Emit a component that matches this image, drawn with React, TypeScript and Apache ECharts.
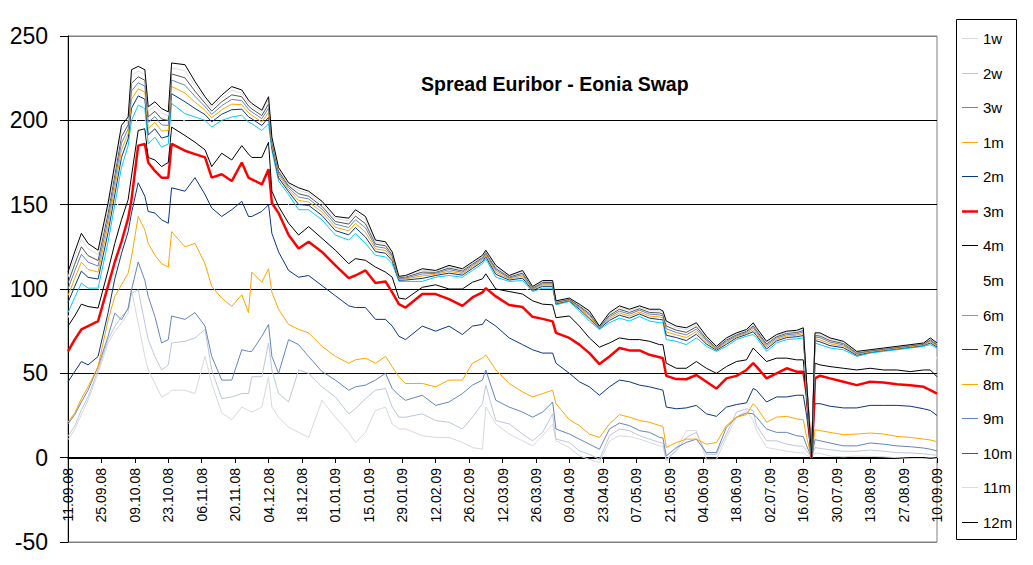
import React, { useEffect, useRef } from "react";
import * as echarts from "echarts";

// business-day index (0 = 11.09.08 ... 260 = 10.09.09) of each sampled point
const X = [0, 2, 4, 6, 9, 12, 14, 16, 18, 19, 21, 23, 24, 26, 28, 30, 31, 35, 38, 41, 43, 46, 49, 52, 54,
  55, 58, 60, 61, 63, 66, 69, 72, 76, 80, 84, 86, 89, 92, 95, 97, 99, 101,
  106, 110, 114, 118, 121, 124, 125, 128, 132, 136, 139, 142, 145, 146, 150, 153,
  156, 159, 162, 165, 168, 171, 174, 177, 178, 179, 182, 185, 188, 191, 194, 197, 200, 203, 205,
  206, 209, 212, 215, 218, 220, 221, 222.5, 223.5, 225, 228, 232, 236, 240, 244, 248, 252, 256, 258, 260];

const DATE_LABELS = ["11.09.08", "25.09.08", "09.10.08", "23.10.08", "06.11.08", "20.11.08", "04.12.08",
  "18.12.08", "01.01.09", "15.01.09", "29.01.09", "12.02.09", "26.02.09", "12.03.09", "26.03.09",
  "09.04.09", "23.04.09", "07.05.09", "21.05.09", "04.06.09", "18.06.09", "02.07.09", "16.07.09",
  "30.07.09", "13.08.09", "27.08.09", "10.09.09"];

const S_12M = [110, 122, 133, 127, 123, 151, 174, 197, 202, 230, 232, 230, 208, 211, 207, 205, 234, 233, 223, 214, 209, 215, 220, 218, 212,
  210, 206, 214, 190, 172, 163, 160, 158, 152, 143, 142, 147, 143, 129, 128, 122, 107.5, 108,
  112, 111, 114, 112, 116, 120, 123, 114, 108, 111, 101.5, 105, 105, 93, 94.6, 91,
  87, 78, 86, 90, 88, 90, 88, 88, 87, 81, 78, 77, 80, 72, 66, 71, 74, 76, 80,
  77, 69, 73, 75, 75.5, 77, 45, 0, 74, 74, 71, 69, 63, 64, 65, 66, 67, 68, 71, 68];

const S_11M = [107, 118.8, 129.5, 123.8, 120.3, 148.2, 171.1, 194, 200, 226.4, 229.2, 227.2, 205.4, 208.5, 204.2, 202.7, 231.1, 229.5, 220.5, 212.3, 207.4, 213.2, 217.8, 216.2, 210.4,
  208.6, 204.6, 212.1, 189, 171, 162.2, 158.4, 156.7, 150.7, 141.7, 140.4, 145.3, 141.1, 127.9, 126.9, 121.2, 107.1, 107.6,
  111.1, 110.5, 113.3, 111.4, 115.4, 119.4, 122.4, 113.2, 107.6, 110.3, 101.1, 104.5, 104.5, 92.7, 94.4, 90.5,
  86.3, 77.8, 85.3, 89.1, 87.2, 89.2, 87.2, 87, 86.2, 79.7, 76.9, 75.8, 78.9, 71.3, 65.6, 70.4, 73.5, 75.5, 79.2,
  76.3, 68.3, 72.4, 74.4, 74.9, 76.3, 44.4, 0, 73.3, 73.2, 70.3, 68.4, 62.6, 63.8, 64.8, 65.8, 66.8, 67.8, 70.5, 67.6];

const S_10M = [103.5, 114.7, 125, 119.8, 116.9, 144.8, 167.5, 190.3, 197.4, 221.9, 225.8, 223.8, 202.1, 205.3, 200.8, 199.9, 227.5, 225.2, 217.3, 210.2, 205.5, 211, 215.1, 214, 208.5,
  206.8, 202.8, 209.7, 187.8, 169.8, 161.1, 156.5, 155, 149, 140, 138.5, 143.2, 138.7, 126.6, 125.6, 120.1, 106.7, 107.1,
  110, 109.9, 112.4, 110.7, 114.7, 118.7, 121.7, 112.1, 107.1, 109.4, 100.7, 103.8, 103.8, 92.4, 94, 89.9,
  85.4, 77.5, 84.4, 88, 86.1, 88.3, 86.1, 85.8, 85.1, 78, 75.6, 74.3, 77.6, 70.4, 65.2, 69.7, 72.9, 74.9, 78.1,
  75.4, 67.4, 71.7, 73.7, 74.2, 75.4, 43.7, 0, 72.4, 72.1, 69.4, 67.7, 62.2, 63.5, 64.5, 65.5, 66.5, 67.5, 69.9, 67.2];

const S_9M = [100, 110.7, 120.6, 115.9, 113.6, 141.3, 163.9, 186.5, 194.9, 217.4, 222.3, 220.3, 198.8, 202.2, 197.3, 197, 223.9, 220.8, 214.2, 208.1, 203.5, 208.7, 212.4, 211.7, 206.5,
  205, 201, 207.3, 186.6, 168.6, 160.1, 154.5, 153.4, 147.4, 138.4, 136.5, 141.1, 136.3, 125.2, 124.2, 119.1, 106.2, 106.5,
  108.9, 109.3, 111.5, 109.9, 113.9, 117.9, 120.9, 111.1, 106.5, 108.5, 100.2, 103.1, 103.1, 92, 93.8, 89.3,
  84.5, 77.2, 83.5, 86.9, 85.1, 87.4, 85.1, 84.6, 84.1, 76.4, 74.2, 72.8, 76.2, 69.5, 64.7, 68.9, 72.3, 74.3, 77.1,
  74.5, 66.5, 70.9, 72.9, 73.4, 74.5, 42.9, 0, 71.5, 71.1, 68.5, 66.9, 61.7, 63.2, 64.2, 65.2, 66.2, 67.2, 69.3, 66.7];

const S_8M = [96, 106.3, 115.9, 111.6, 110, 137.7, 160.1, 182.5, 192.1, 212.6, 218.7, 216.7, 195.2, 198.8, 193.7, 194, 220.1, 216.2, 210.8, 205.9, 201.5, 206.3, 209.6, 209.3, 204.5,
  203, 199, 204.7, 185.4, 167.4, 158.9, 152.5, 151.6, 145.6, 136.6, 134.5, 138.9, 133.7, 123.8, 122.8, 117.9, 105.8, 106,
  107.7, 108.7, 110.5, 109.1, 113.1, 117.1, 120.1, 109.9, 106, 107.5, 99.8, 102.4, 102.4, 91.6, 93.4, 88.7,
  83.5, 76.8, 82.5, 85.8, 83.9, 86.3, 83.9, 83.4, 82.9, 74.6, 72.8, 71.2, 74.8, 68.5, 64.3, 68.1, 71.7, 73.7, 75.9,
  73.5, 65.5, 70.1, 72.1, 72.6, 73.5, 42.1, 0, 70.5, 69.9, 67.5, 66.1, 61.3, 62.8, 63.8, 64.8, 65.8, 66.8, 68.7, 66.3];

const S_7M = [92, 101.5, 110.6, 106.9, 105.9, 133.5, 155.8, 178, 189.1, 207.2, 214.5, 212.5, 191.3, 195, 189.5, 190.6, 215.8, 211, 207, 203.4, 199.1, 203.6, 206.3, 206.6, 202.1,
  200.9, 196.9, 201.8, 183.9, 165.9, 157.7, 150.1, 149.6, 143.6, 134.6, 132.1, 136.4, 130.8, 122.2, 121.2, 116.7, 105.2, 105.3,
  106.3, 108, 109.4, 108.2, 112.2, 116.2, 119.2, 108.7, 105.3, 106.4, 99.2, 101.6, 101.6, 91.2, 93.1, 88,
  82.4, 76.5, 81.4, 84.5, 82.7, 85.2, 82.7, 81.9, 81.7, 72.6, 71.2, 69.4, 73.2, 67.4, 63.7, 67.2, 71, 73, 74.7,
  72.4, 64.4, 69.2, 71.2, 71.7, 72.4, 41.2, 0, 69.4, 68.7, 66.4, 65.2, 60.7, 62.5, 63.5, 64.5, 65.5, 66.5, 68, 65.7];

const S_6M = [86, 95, 103.5, 100.5, 100.5, 128, 150, 172, 185, 200, 209, 207, 186, 190, 184, 186, 210, 204, 202, 200, 196, 200, 202, 203, 199,
  198, 194, 198, 182, 164, 156, 147, 147, 141, 132, 129, 133, 127, 120, 119, 115, 104.5, 104.5,
  104.5, 107, 108, 107, 111, 115, 118, 107, 104.5, 105, 98.5, 100.5, 100.5, 90.6, 92.6, 87,
  81, 76, 80, 82.7, 81, 83.7, 81, 80, 80, 70, 69, 67, 71, 66, 63, 66, 70, 72, 73,
  71, 63, 68, 70, 70.5, 71, 40, 0, 68, 67, 65, 64, 60, 62, 63, 64, 65, 66, 67, 65];

const S_5M = [83, 91.2, 99.1, 96.7, 96.4, 122, 142, 161, 173.8, 188.5, 203.8, 202.8, 183.2, 185.3, 180, 182.2, 205.1, 199.5, 196.8, 193.9, 187.8, 193.2, 193.1, 196.7, 192.4,
  191, 188.4, 194.2, 173.6, 158.8, 150, 141.8, 143.5, 137.2, 128.9, 124.1, 127.8, 123.5, 117.6, 115.9, 112.2, 101, 100.8,
  103.3, 105.4, 105.2, 104.6, 108.6, 111.9, 114.9, 104.6, 102.4, 102.2, 96.6, 97.2, 97, 88, 89.6, 83.9,
  77.5, 72.3, 75.8, 78.6, 77.2, 78.9, 76.8, 75.5, 75.5, 65.1, 63.4, 62.1, 66.1, 61.5, 58.5, 61.8, 65.5, 67.1, 70.2,
  68.2, 60.9, 64.9, 66.2, 66.1, 66.5, 38.3, 0, 63.8, 62.8, 61.2, 60.2, 57.2, 58.9, 59.2, 59.8, 60.1, 61.1, 61.8, 59];

const S_4M = [78, 84, 91, 89.6, 88.7, 111, 127, 141, 153, 167, 194, 195, 178, 176.5, 172.6, 175, 196, 191, 187, 182.5, 172.6, 180.5, 176.5, 185, 180,
  178, 178, 187, 158, 149, 139, 132, 137, 130, 123, 115, 118, 117, 113, 110, 107, 94.6, 94,
  101, 102.5, 100, 100, 104, 106, 109, 100, 98.5, 97, 93, 91, 90.6, 83, 84, 78,
  71, 65.5, 68, 71, 70, 70, 69, 67, 67, 56, 53, 53, 57, 53, 50, 54, 57, 58, 65,
  63, 57, 59, 59, 58, 58, 35, 0, 56, 55, 54, 53, 52, 53, 52, 52, 51, 52, 52, 48];

const S_3M = [63, 70, 76, 78, 81, 102, 116, 128, 142, 153, 185, 186, 175, 170, 166, 166, 186, 182, 180, 178, 166, 168, 164, 175, 166,
  165, 162, 171, 151, 145, 132, 124, 128, 122, 114, 106.4, 108, 111, 103.5, 104.5, 98, 91, 89,
  97, 97, 94, 90, 95, 98, 100.5, 95.6, 90.5, 89.3, 83.5, 82.3, 80.8, 74, 71, 67,
  62, 55.5, 60, 65, 63.6, 63.6, 61, 59.5, 59, 48.5, 46.6, 46.5, 49, 45, 41, 47, 48.5, 52, 56,
  54, 47, 50, 53, 51, 51, 38, 0, 47, 48.6, 47, 45, 43, 45, 44.5, 43.5, 43, 42, 40, 38];

const S_2M = [45, 51, 57, 55, 60, 86, 106, 121, 134, 145, 163, 155, 146, 145, 141, 139, 160, 158, 166, 156, 148, 143, 147, 152, 143,
  143, 146, 150, 133, 122, 111, 107, 108, 102, 96, 90, 89, 89, 82, 82, 78, 72, 70,
  78, 75, 78, 73, 78, 79, 82, 78, 71, 67, 64, 62, 62, 56, 50, 45,
  42, 37, 42, 46, 45, 43, 42, 40.5, 40, 30, 29, 29.5, 31, 26, 24.5, 30, 31.5, 32.5, 41,
  40, 33, 36, 36, 37, 37, 25, 0, 32, 32, 30.5, 29.5, 29.5, 31, 31, 31, 30.5, 29, 28, 25];

const S_1M = [21, 26.5, 35, 42, 54, 81.7, 95.6, 102.5, 109.4, 119, 143, 135, 127, 120, 115, 113, 134, 125, 127, 115, 101.5, 94.6, 89.7, 96.6, 86,
  110, 104, 112, 98, 88, 79, 76, 74, 66, 60, 56, 58, 59, 56, 60, 54, 48, 44,
  44, 42, 46, 46, 56, 59, 61, 52, 44, 39, 36, 38, 40, 32, 22.5, 19,
  14, 12, 20, 25.5, 24, 22, 21, 19, 18.6, 6, 9, 11, 11, 8, 9, 19, 24, 25.5, 32,
  30, 21, 24, 24.5, 23, 22.5, 12, 0, 16.6, 16, 15, 13.6, 14, 14.6, 14, 12.6, 12, 11, 10.5, 9.5];

const S_3W = [20, 25.5, 33, 40, 54, 72, 85.7, 81.7, 88.7, 99.5, 116, 105, 95.6, 83.7, 68, 70, 84, 82, 86, 78, 60, 46, 46, 64, 63,
  63, 72, 79, 60, 50, 70, 67, 60, 51, 46, 40, 42, 43, 46, 50, 41, 37, 34,
  37, 31, 33, 38, 43, 46, 52, 34, 30, 27, 24, 27, 33, 17, 14, 11,
  8, 5, 17, 20.5, 19, 16, 15, 12, 11.7, 1, 6, 9, 11, 3, 3, 18, 24, 26.5, 26,
  24, 17, 15, 15, 13, 12.5, 7, 0, 10.7, 10, 8.7, 7, 7, 8.7, 8, 7, 6.5, 5.7, 5, 4];

const S_2W = [12.6, 18.6, 28.4, 36, 52, 70, 77.8, 83.7, 87.7, 97.5, 99.5, 79.8, 70, 60, 52, 55, 68, 69, 71, 76, 52, 35, 36, 38, 38,
  48, 48, 68, 52, 38, 33, 52, 50, 42, 36, 26, 29, 35, 40, 41, 30, 24, 24,
  26, 22, 21, 17, 24, 32, 43, 22, 20, 14, 10, 15, 26, 11, 9, 4,
  2, -1, 13, 17, 16, 13, 11, 9, 8.7, -1, 4, 12, 15, 2, 2, 14, 27, 29, 28,
  19, 10, 10, 8, 7, 6.7, 4, 0, 6, 5.5, 4.7, 3.8, 3.8, 4.5, 3.8, 3, 2.8, 2.3, 1.8, 1.5];

const S_1W = [10.6, 16.6, 25.5, 34, 50, 68, 74.8, 79.8, 85.7, 99.5, 79.8, 60, 52, 44, 36, 38, 40, 40, 38, 60, 44, 26.5, 22.5, 30, 28,
  27, 30, 48, 30, 24, 18, 15, 12, 34, 24, 15, 9, 15, 28, 30, 20, 17, 17,
  13, 12, 12, 9, 6, 5, 30, 20, 14, 10, 7, 13, 20, 10, 6, 1,
  -1, -3, 10, 13, 12.5, 11, 9, 7, 6.7, -2, 5, 16, 16, -1, -1, 12, 24, 28, 22,
  16, 6, 5, 3.8, 3, 2.8, 1.5, 0, 2.8, 2.5, 1, 0.5, 1, 0.8, 0.5, 0, -0.5, -0.5, 0, -0.5];

const SERIES_NAMES = ["1w", "2w", "3w", "1m", "2m", "3m", "4m", "5m", "6m", "7m", "8m", "9m", "10m", "11m", "12m"];
const SERIES_DATA = [S_1W, S_2W, S_3W, S_1M, S_2M, S_3M, S_4M, S_5M, S_6M, S_7M, S_8M, S_9M, S_10M, S_11M, S_12M];
const SERIES_COLORS = ["#D9D9D9", "#BCC7DD", "#6685BB", "#FFA500", "#0A3580", "#FF0000", "#000000", "#FFFFFF",
  "#00CCFF", "#0A3580", "#FFA500", "#6685BB", "#555555", "#DCDCDC", "#000000"];

const FONT = 'Arial, "Liberation Sans", sans-serif';

export default function App() {
  const ref = useRef<HTMLDivElement>(null);

  useEffect(() => {
    if (!ref.current) return;
    const chart = echarts.init(ref.current, undefined, { renderer: "svg" });
    const series = SERIES_NAMES.map((name, s) => ({
      type: "line",
      name,
      data: X.map((x, k) => [x, SERIES_DATA[s][k]]),
      symbol: "none",
      silent: true,
      lineStyle: { color: SERIES_COLORS[s], width: name === "3m" ? 2.5 : 1 },
      itemStyle: { color: SERIES_COLORS[s] },
    }));

    // legend drawn as a boxed list, one row per series
    const legendTop = 38;
    const legendStep = 34.57;
    const legendItems: any[] = [
      {
        type: "rect",
        shape: { x: 956.5, y: 19.5, width: 60, height: 520 },
        style: { fill: "#fff", stroke: "#000", lineWidth: 1 },
        z: 10,
      },
    ];
    SERIES_NAMES.forEach((name, s) => {
      const y = Math.round(legendTop + legendStep * s) + 0.5;
      legendItems.push({
        type: "line",
        shape: { x1: 962, y1: y, x2: 978, y2: y },
        style: { stroke: SERIES_COLORS[s], lineWidth: name === "3m" ? 2.5 : 1 },
        z: 11,
      });
      legendItems.push({
        type: "text",
        x: 983,
        y,
        style: {
          text: name,
          fill: "#000",
          font: `15px ${FONT}`,
          textAlign: "left",
          textVerticalAlign: "middle",
        },
        z: 11,
      });
    });

    chart.setOption({
      animation: false,
      backgroundColor: "#ffffff",
      title: {
        text: "Spread Euribor - Eonia Swap",
        left: 421,
        top: 74,
        padding: 0,
        textStyle: { fontFamily: FONT, fontSize: 19.5, fontWeight: "bold", color: "#000" },
      },
      grid: {
        left: 68,
        right: 96,
        top: 36,
        bottom: 23,
        containLabel: false,
        outerBoundsMode: "none",
        show: true,
        borderColor: "#808080",
        borderWidth: 1,
        backgroundColor: "transparent",
      },
      xAxis: {
        type: "value",
        min: 0,
        max: 260,
        interval: 10,
        position: "bottom",
        offset: -84,
        axisLine: { show: true, onZero: false, lineStyle: { color: "#000", width: 1 } },
        axisTick: { show: true, length: 5, lineStyle: { color: "#000" } },
        axisLabel: {
          rotate: 90,
          margin: 10,
          fontFamily: FONT,
          fontSize: 14,
          color: "#000",
          showMinLabel: true,
          showMaxLabel: true,
          formatter: (v: number) => DATE_LABELS[Math.round(v / 10)] ?? "",
        },
        splitLine: { show: false },
      },
      yAxis: {
        type: "value",
        min: -50,
        max: 250,
        interval: 50,
        axisLine: { show: true, lineStyle: { color: "#000", width: 1 } },
        axisTick: { show: true, length: 8, lineStyle: { color: "#000" } },
        axisLabel: { fontFamily: FONT, fontSize: 23, color: "#000", margin: 20 },
        splitLine: {
          show: true,
          lineStyle: { color: ["#808080", "#000", "#000", "#000", "#000", "#000", "#808080"], width: 1 },
        },
      },
      graphic: legendItems,
      series,
    });
    return () => chart.dispose();
  }, []);

  return (
    <div
      ref={ref}
      style={{ position: "fixed", left: 0, top: 0, width: 1033, height: 565, background: "#fff" }}
    />
  );
}
